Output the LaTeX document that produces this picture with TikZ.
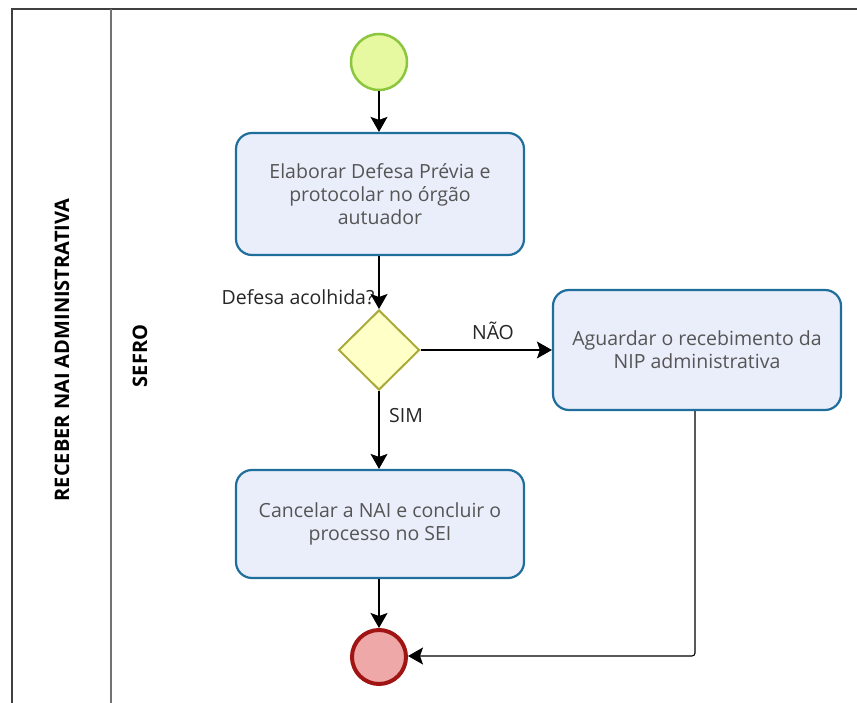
\documentclass[tikz,border=0pt]{standalone}
\usepackage{fontspec}
\setmainfont{Open Sans}
\usetikzlibrary{shapes.geometric,arrows.meta}
\definecolor{taskfill}{HTML}{EAEEFB}
\definecolor{taskline}{HTML}{1F6E9C}
\definecolor{startfill}{HTML}{E6F8A0}
\definecolor{startline}{HTML}{8CC63F}
\definecolor{gwfill}{HTML}{FFFFC8}
\definecolor{gwline}{HTML}{AAAA3A}
\definecolor{endfill}{HTML}{EFA8A8}
\definecolor{endline}{HTML}{A01414}
\definecolor{tasktext}{HTML}{555555}
\tikzset{
  px/.style={x=1pt,y=-1pt},
  taskbox/.style={draw=taskline,fill=taskfill,line width=2.2pt,rounded corners=16pt,
    text=tasktext,align=center,font=\fontsize{19.5}{23}\selectfont,inner sep=0pt},
  startev/.style={circle,draw=startline,fill=startfill,line width=2.5pt,minimum size=56pt,inner sep=0pt},
  endev/.style={circle,draw=endline,fill=endfill,line width=4pt,minimum size=54pt,inner sep=0pt},
  gateway/.style={diamond,draw=gwline,fill=gwfill,line width=2pt,minimum width=81pt,minimum height=80pt,inner sep=0pt},
  flow/.style={draw=black,line width=1.1pt,-{Stealth[width=17pt,length=15pt,inset=3pt]},rounded corners=3pt},
  lbl/.style={font=\fontsize{19.5}{22}\selectfont,text=black!85},
  lanelbl/.style={font=\bfseries\fontsize{20}{22}\selectfont,rotate=90},
}
\begin{document}
\begin{tikzpicture}[px]
\useasboundingbox (0,0) rectangle (857,703);
% pool frame
\draw[line width=2pt,black!75] (12,703) -- (12,9) -- (857,9);
\draw[line width=1.5pt,black!55] (111,9) -- (111,703);
\node[lanelbl] (pool) at (62,350) {RECEBER NAI ADMINISTRATIVA};
\node[lanelbl] (lane) at (140,356) {SEFRO};
% nodes
\node[startev] (start) at (379,62) {};
\node[taskbox,minimum width=288pt,minimum height=122pt] (t1) at (380,194)
  {Elaborar Defesa Prévia e\\protocolar no órgão\\autuador};
\node[gateway] (gw) at (379,350) {};
\node[taskbox,minimum width=288pt,minimum height=120pt] (t2) at (697,350)
  {Aguardar o recebimento da\\NIP administrativa};
\node[taskbox,minimum width=288pt,minimum height=108pt] (t3) at (380,524)
  {Cancelar a NAI e concluir o\\processo no SEI};
\node[endev] (end) at (379,657) {};
% labels
\node[lbl,anchor=east] (q) at (378,297) {Defesa acolhida?};
\node[lbl] (nao) at (493,331) {NÃO};
\node[lbl] (sim) at (406,416) {SIM};
% flows
\draw[flow] (start) -- (t1.north -| start);
\draw[flow] (t1.south -| start) -- (gw.north);
\draw[flow] (gw.east) -- (t2.west);
\draw[flow] (gw.south) -- (t3.north -| gw);
\draw[flow] (t3.south -| end) -- (end);
\coordinate (c1) at (695,656);
\draw[flow] (t2.south -| c1) -- (c1) -- (end.east |- c1);
\end{tikzpicture}
\end{document}
